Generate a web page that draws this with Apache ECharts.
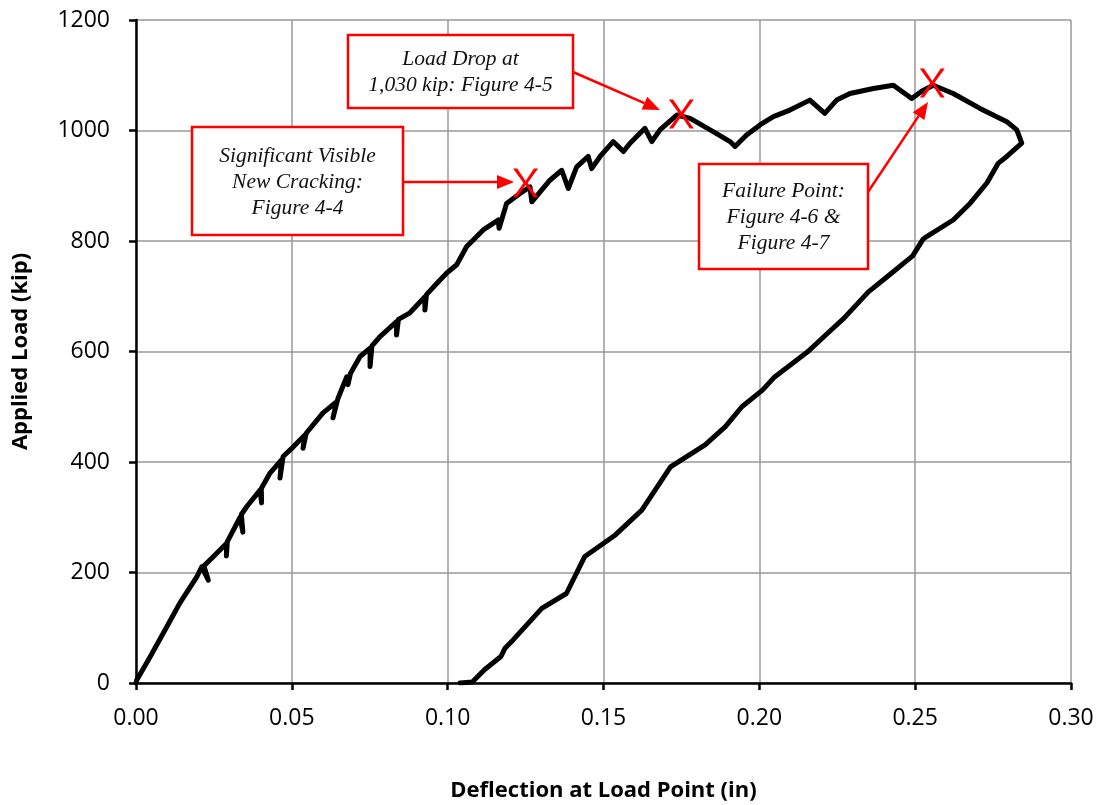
<!DOCTYPE html>
<html>
<head>
<meta charset="utf-8">
<script src="https://cdn.jsdelivr.net/npm/echarts@6/dist/echarts.min.js"></script>
<style>
  html, body { margin: 0; padding: 0; background: #fff; }
  #chart { width: 1099px; height: 805px; }
</style>
</head>
<body>
<div id="chart"></div>
<script>
// Load–deflection record: loading branch with small load drops, then unloading branch
const deflection = [
  0, 0.0002, 0.0045, 0.0098, 0.0141, 0.0195, 0.0211, 0.0232, 0.0218, 0.0247,
  0.0291, 0.0290, 0.0293, 0.0334, 0.0343, 0.0338, 0.0355, 0.0398, 0.0403, 0.0402,
  0.0430, 0.0467, 0.0462, 0.0472, 0.0504, 0.0542, 0.0536, 0.0546, 0.0600, 0.0644,
  0.0632, 0.0648, 0.0676, 0.0680, 0.0688, 0.0719, 0.0751, 0.0751, 0.0757, 0.0783,
  0.0836, 0.0836, 0.0842, 0.0879, 0.0927, 0.0927, 0.0932, 0.0965, 0.0997, 0.1029,
  0.1061, 0.1082, 0.1114, 0.1146, 0.1162, 0.1165, 0.1189, 0.1232, 0.1264, 0.1270,
  0.1328, 0.1366, 0.1387, 0.1414, 0.1451, 0.1462, 0.1489, 0.1531, 0.1564, 0.1585,
  0.1633, 0.1655, 0.1681, 0.1735, 0.1778, 0.1852, 0.1906, 0.1922, 0.1959, 0.2002,
  0.2045, 0.2098, 0.2162, 0.2210, 0.2248, 0.2291, 0.2366, 0.2430, 0.2489, 0.2521,
  0.2558, 0.2622, 0.2708, 0.2794, 0.2826, 0.2842,
  0.2794, 0.2767, 0.2730, 0.2676, 0.2622, 0.2537, 0.2525, 0.2492, 0.2416, 0.2350,
  0.2271, 0.2219, 0.2154, 0.2049, 0.2010, 0.1944, 0.1891, 0.1826, 0.1715, 0.1623,
  0.1538, 0.1440, 0.1381, 0.1302, 0.1210, 0.1184, 0.1171, 0.1118, 0.1079, 0.1040
];
const load = [
  0, 5, 47, 101, 145, 192, 210, 186, 212, 228,
  253, 230, 256, 300, 273, 305, 319, 349, 326, 352,
  380, 404, 371, 410, 427, 449, 425, 452, 489, 509,
  480, 515, 554, 540, 560, 591, 606, 573, 610, 627,
  654, 630, 658, 670, 699, 675, 703, 723, 742, 757,
  790, 802, 820, 832, 838, 823, 868, 886, 898, 871,
  910, 928, 895, 934, 953, 931, 953, 980, 962, 977,
  1004, 980, 1001, 1028, 1022, 998, 980, 971, 992, 1010,
  1025, 1037, 1055, 1031, 1055, 1067, 1076, 1082, 1058, 1071,
  1082, 1067, 1040, 1016, 1001, 977,
  953, 941, 905, 868, 838, 808, 803, 773, 738, 708,
  660, 633, 599, 554, 530, 500, 464, 431, 391, 313,
  268, 229, 162, 135, 78, 63, 48, 24, 2, 0
];

// Noted events on the curve
const eventDeflection = [0.125, 0.175, 0.2555];
const eventLoad = [905, 1030, 1086];

// Axis ticks
const xTicks = [0, 0.05, 0.10, 0.15, 0.20, 0.25, 0.30];
const yTicks = [0, 200, 400, 600, 800, 1000, 1200];

const curve = deflection.map((d, i) => [d, load[i]]);
const events = eventDeflection.map((d, i) => [d, eventLoad[i]]);

const RED = '#ff0000';
const boxFont = 'italic 21.5px "Liberation Serif", "DejaVu Serif", serif';

function noteBox(x, y, w, h, text) {
  return {
    type: 'group',
    children: [
      { type: 'rect', shape: { x: x, y: y, width: w, height: h },
        style: { fill: '#fff', stroke: RED, lineWidth: 2.5 }, z: 10 },
      { type: 'text', x: x + w / 2, y: y + h / 2 + 1,
        style: { text: text, font: boxFont, fill: '#111', align: 'center',
                 verticalAlign: 'middle', lineHeight: 26 }, z: 11 }
    ]
  };
}

function arrow(x1, y1, x2, y2) {
  const len = 17, half = 7;
  const a = Math.atan2(y2 - y1, x2 - x1);
  const bx = x2 - len * Math.cos(a), by = y2 - len * Math.sin(a);
  const nx = -Math.sin(a), ny = Math.cos(a);
  return {
    type: 'group',
    children: [
      { type: 'line', shape: { x1: x1, y1: y1, x2: bx, y2: by },
        style: { stroke: RED, lineWidth: 2.5 }, z: 10 },
      { type: 'polygon',
        shape: { points: [[x2, y2], [bx + nx * half, by + ny * half], [bx - nx * half, by - ny * half]] },
        style: { fill: RED }, z: 10 }
    ]
  };
}

const chart = echarts.init(document.getElementById('chart'), null, { renderer: 'canvas' });

const tickFont = { fontFamily: '"Open Sans", sans-serif', fontSize: 23, color: '#000' };
const titleFont = { fontFamily: '"Open Sans", sans-serif', fontSize: 22, fontWeight: 'bold', color: '#000' };

chart.setOption({
  animation: false,
  backgroundColor: '#fff',
  grid: { left: 136, right: 28, top: 20, bottom: 122, containLabel: false, outerBoundsMode: 'none' },
  xAxis: {
    type: 'value',
    min: xTicks[0], max: xTicks[xTicks.length - 1], interval: 0.05,
    name: 'Deflection at Load Point (in)',
    nameLocation: 'middle', nameGap: 97,
    nameTextStyle: titleFont,
    axisLine: { show: true, lineStyle: { color: '#000', width: 2.5 } },
    axisTick: { show: true, inside: false, length: 7, lineStyle: { color: '#000', width: 2.5 } },
    axisLabel: Object.assign({ margin: 24, formatter: v => v.toFixed(2) }, tickFont),
    splitLine: { show: true, lineStyle: { color: '#999', width: 1.5 } }
  },
  yAxis: {
    type: 'value',
    min: yTicks[0], max: yTicks[yTicks.length - 1], interval: 200,
    name: 'Applied Load (kip)',
    nameLocation: 'middle', nameGap: 104,
    nameTextStyle: titleFont,
    axisLine: { show: true, lineStyle: { color: '#000', width: 2.5 } },
    axisTick: { show: true, inside: false, length: 7, lineStyle: { color: '#000', width: 2.5 } },
    axisLabel: Object.assign({ margin: 26, formatter: v => String(v) }, tickFont),
    splitLine: { show: true, lineStyle: { color: '#999', width: 1.5 } }
  },
  series: [
    {
      type: 'line',
      data: curve,
      showSymbol: false,
      smooth: false,
      lineStyle: { color: '#000', width: 5, join: 'round', cap: 'round' },
      z: 3
    },
    {
      type: 'scatter',
      data: events,
      symbol: 'path://M0,0 L4,0 L12,12 L20,0 L24,0 L14,14 L24,28 L20,28 L12,16 L4,28 L0,28 L10,14 Z',
      symbolSize: [25, 29],
      itemStyle: { color: RED, opacity: 1 },
      z: 5
    }
  ],
  graphic: [
    noteBox(348, 35, 225, 73, 'Load Drop at\n1,030 kip: Figure 4-5'),
    noteBox(192, 127, 211, 108, 'Significant Visible\nNew Cracking:\nFigure 4-4'),
    noteBox(699, 164, 169, 105, 'Failure Point:\nFigure 4-6 &\nFigure 4-7'),
    arrow(573, 72, 660, 110),
    arrow(403, 182, 514, 182),
    arrow(868, 192, 928, 102)
  ]
});
</script>
</body>
</html>
